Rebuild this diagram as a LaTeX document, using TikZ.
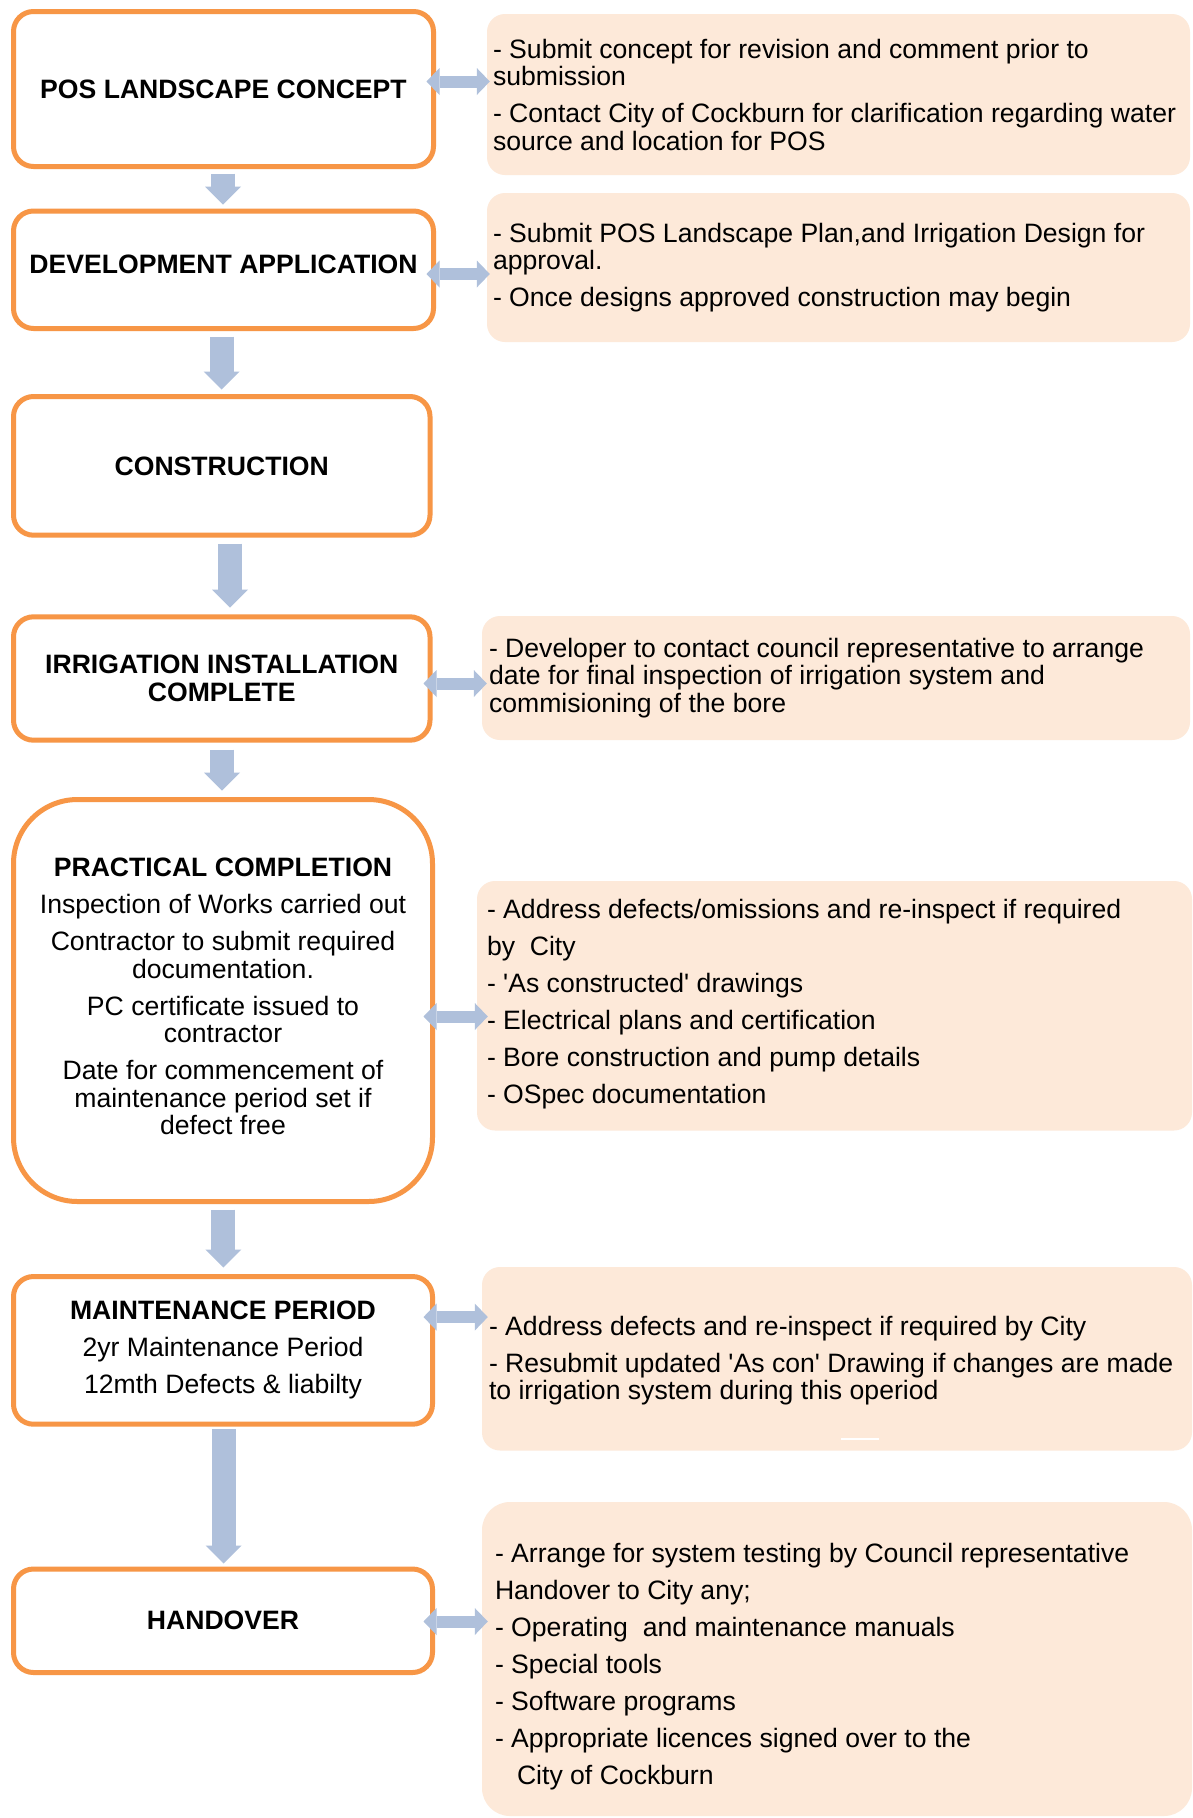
\documentclass[tikz,border=0pt]{standalone}
\usepackage{fontspec}
\setmainfont{Liberation Sans}[Ligatures=TeXOff]
\usetikzlibrary{arrows.meta,calc}
\definecolor{borange}{HTML}{F79646}
\definecolor{pfill}{HTML}{FDE9D9}
\definecolor{ablue}{HTML}{AFC0DB}
\begin{document}
\begin{tikzpicture}[x=1pt,y=-1pt,
  stage/.style={draw=borange, line width=5pt, fill=white, rounded corners=20pt, align=center, inner sep=0pt,
    font=\fontsize{26.6}{27.5}\selectfont},
  stagetext/.style={align=center, inner sep=0pt, font=\fontsize{26.6}{27.5}\selectfont},
  note/.style={fill=pfill, rounded corners=18pt, inner sep=0pt},
  notetext/.style={align=left, inner sep=0pt, anchor=west, font=\fontsize{26.6}{27.5}\selectfont},
  downarr/.style={draw=ablue, line width=24pt, -{Triangle[width=36pt,length=18pt,line width=0pt]}},
  dblarr/.style={draw=ablue, line width=12pt,
    {Triangle[width=27pt,length=13pt,line width=0pt]}-{Triangle[width=27pt,length=13pt,line width=0pt]}},
]
\useasboundingbox[fill=white] (0,0) rectangle (1192,1818);

% left stages
\node[stage, minimum width=420pt, minimum height=155pt] (b1) at (223.5,89) {\textbf{POS LANDSCAPE CONCEPT}};
\node[stage, minimum width=420pt, minimum height=117.5pt] (b2) at (223.5,269.75) {};
\node[stagetext] (b2t) at ($(b2.center)+(0,-5)$) {\textbf{DEVELOPMENT APPLICATION}};
\node[stage, minimum width=416.5pt, minimum height=138.7pt] (b3) at (221.75,465.85) {\textbf{CONSTRUCTION}};
\node[stage, minimum width=416.5pt, minimum height=123.4pt] (b4) at (221.75,678.5) {\textbf{IRRIGATION INSTALLATION}\\\textbf{COMPLETE}};
\node[stage, rounded corners=64pt, minimum width=419pt, minimum height=402pt] (b5) at (223,1000.5) {};
\node[stagetext] (b5t) at ($(b5.center)+(0,-4)$)
  {\textbf{PRACTICAL COMPLETION}\\[9.5pt]Inspection of Works carried out\\[9.5pt]Contractor to submit required\\documentation.\\[9.5pt]PC certificate issued to\\contractor\\[9.5pt]Date for commencement of\\maintenance period set if\\defect free};
\node[stage, minimum width=419pt, minimum height=147.7pt] (b6) at (223,1350.35)
  {\textbf{MAINTENANCE PERIOD}\\[9.5pt]2yr Maintenance Period\\[9.5pt]12mth Defects \& liabilty};
\node[stage, minimum width=419pt, minimum height=103.5pt] (b7) at (223,1620.75) {\textbf{HANDOVER}};

% right notes
\node[note, minimum width=703pt, minimum height=161pt] (r1) at (838.5,94.5) {};
\node[note, minimum width=703pt, minimum height=149pt] (r2) at (838.5,267.5) {};
\node[note, minimum width=708pt, minimum height=124pt] (r3) at (836,678) {};
\node[note, minimum width=715pt, minimum height=249.5pt] (r4) at (834.5,1005.75) {};
\node[note, minimum width=710pt, minimum height=183.5pt] (r5) at (837,1358.75) {};
\node[note, rounded corners=28pt, minimum width=710pt, minimum height=314pt] (r6) at (837,1659) {};
\draw[white, line width=2pt] (841,1439) -- (879,1439);

\node[notetext] (t1) at ($(r1.west)+(6,0)$)
  {- Submit concept for revision and comment prior to\\submission\\[9.5pt]- Contact City of Cockburn for clarification regarding water\\source and location for POS};
\node[notetext] (t2) at ($(r2.west)+(6,0)$)
  {- Submit POS Landscape Plan,and Irrigation Design for\\approval.\\[9.5pt]- Once designs approved construction may begin};
\node[notetext] (t3) at ($(r3.west)+(7,0)$)
  {- Developer to contact council representative to arrange\\date for final inspection of irrigation system and\\commisioning of the bore};
\node[notetext] (t4) at ($(r4.west)+(10,-2)$)
  {- Address defects/omissions and re-inspect if required\\[9.5pt]by\ \ City\\[9.5pt]- 'As constructed' drawings\\[9.5pt]- Electrical plans and certification\\[9.5pt]- Bore construction and pump details\\[9.5pt]- OSpec documentation};
\node[notetext] (t5) at ($(r5.west)+(7,2)$)
  {- Address defects and re-inspect if required by City\\[9.5pt]- Resubmit updated 'As con' Drawing if changes are made\\to irrigation system during this operiod};
\node[notetext] (t6) at ($(r6.west)+(13,8)$)
  {- Arrange for system testing by Council representative\\[9.5pt]Handover to City any;\\[9.5pt]- Operating\ \ and maintenance manuals\\[9.5pt]- Special tools\\[9.5pt]- Software programs\\[9.5pt]- Appropriate licences signed over to the\\[9.5pt]\hspace*{22pt}City of Cockburn};

% down arrows
\draw[downarr] ($(b1.south)+(-0.5,4.5)$) -- ($(b1.south |- b2.north)+(-0.5,-4)$);
\draw[downarr] ($(b2.south)+(-1.8,5.5)$) -- ($(b2.south |- b3.north)+(-1.8,-4.5)$);
\draw[downarr] ($(b3.south)+(8.25,5.8)$) -- ($(b3.south |- b4.north)+(8.25,-6.8)$);
\draw[downarr] ($(b4.south)+(0.25,6.8)$) -- ($(b4.south |- b5.north)+(0.25,-6.5)$);
\draw[downarr] ($(b5.south)+(0.4,5.5)$) -- ($(b5.south |- b6.north)+(0.4,-6.5)$);
\draw[downarr] ($(b6.south)+(0.7,2.5)$) -- ($(b6.south |- b7.north)+(0.7,-3)$);

% double arrows
\draw[dblarr] ($(b1.east)+(-9.5,-7.5)$) -- ($(b1.east -| r1.west)+(3,-7.5)$);
\draw[dblarr] ($(b2.east)+(-9.5,4.25)$) -- ($(b2.east -| r2.west)+(3,4.25)$);
\draw[dblarr] ($(b4.east)+(-9,5)$) -- ($(b4.east -| r3.west)+(5,5)$);
\draw[dblarr] ($(b5.east)+(-11.5,16)$) -- ($(b5.east -| r4.west)+(11,16)$);
\draw[dblarr] ($(b6.east)+(-11.5,-33.3)$) -- ($(b6.east -| r5.west)+(6,-33.3)$);
\draw[dblarr] ($(b7.east)+(-11.5,0.75)$) -- ($(b7.east -| r6.west)+(6,0.75)$);
\end{tikzpicture}
\end{document}
